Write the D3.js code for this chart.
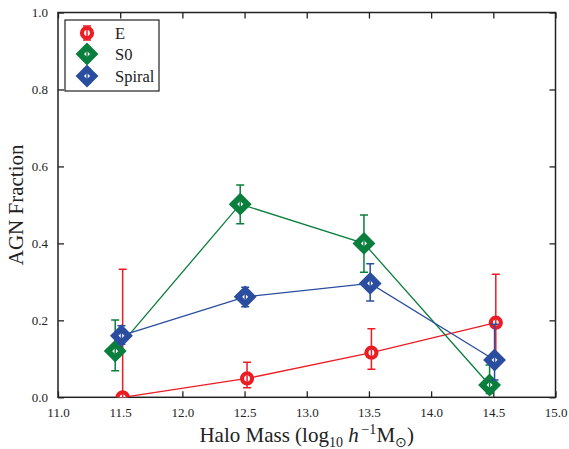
<!DOCTYPE html>
<html>
<head>
<meta charset="utf-8">
<script src="https://cdn.jsdelivr.net/npm/d3@7"></script>
<style>
body { margin: 0; background: #fff; }
text { font-family: "Liberation Serif", "Times New Roman", serif; fill: #222; }
</style>
</head>
<body>
<div id="chart"></div>
<script>

const width = 569, height = 449;

// DATA
const seriesNames = ["E", "S0", "Spiral"];
const seriesColors = ["#ec1c24", "#0a7f3d", "#2a4d9f"];

const massE = [11.52, 12.52, 13.52, 14.52];
const fracE = [0.0, 0.049, 0.116, 0.194];
const loE = [0.0, 0.025, 0.073, 0.09];
const hiE = [0.333, 0.091, 0.178, 0.320];

const massS0 = [11.46, 12.465, 13.46, 14.47];
const fracS0 = [0.120, 0.502, 0.400, 0.032];
const loS0 = [0.069, 0.451, 0.325, 0.010];
const hiS0 = [0.201, 0.552, 0.474, 0.084];

const massSp = [11.51, 12.505, 13.51, 14.51];
const fracSp = [0.160, 0.261, 0.296, 0.097];
const loSp = [0.138, 0.235, 0.250, 0.045];
const hiSp = [0.186, 0.286, 0.347, 0.190];

const xTicks = [11.0, 11.5, 12.0, 12.5, 13.0, 13.5, 14.0, 14.5, 15.0];
const yTicks = [0.0, 0.2, 0.4, 0.6, 0.8, 1.0];

const series = [
	{ name: "E", shape: "circle", x: massE, y: fracE, lo: loE, hi: hiE },
	{ name: "S0", shape: "diamond", x: massS0, y: fracS0, lo: loS0, hi: hiS0 },
	{ name: "Spiral", shape: "diamond", x: massSp, y: fracSp, lo: loSp, hi: hiSp }
];

const margin = { left: 58, right: 13.5, top: 12.5, bottom: 51.7 };

const x = d3.scaleLinear().domain([11, 15]).range([margin.left, width - margin.right]);
const y = d3.scaleLinear().domain([0, 1]).range([height - margin.bottom, margin.top]);

let svg = d3.select("#chart")
	.append("svg")
	.attr("width", width)
	.attr("height", height);

svg.append("clipPath")
	.attr("id", "clip")
	.append("rect")
	.attr("x", margin.left)
	.attr("y", margin.top)
	.attr("width", x(15) - x(11))
	.attr("height", y(0) - y(1));

// AXES (ticks inward, on all four sides)
const tickLen = 6;
const fmt = d3.format(".1f");
const serif = "'Liberation Serif', 'Times New Roman', serif";

svg.append("g")
	.attr("transform", `translate(0,${y(0)})`)
	.call(d3.axisBottom(x).tickValues(xTicks).tickFormat(fmt).tickSizeInner(-tickLen).tickSizeOuter(0).tickPadding(10))
	.call(g => g.select(".domain").remove());

svg.append("g")
	.attr("transform", `translate(0,${y(1)})`)
	.call(d3.axisTop(x).tickValues(xTicks).tickFormat("").tickSizeInner(-tickLen).tickSizeOuter(0))
	.call(g => g.select(".domain").remove());

svg.append("g")
	.attr("transform", `translate(${x(11)},0)`)
	.call(d3.axisLeft(y).tickValues(yTicks).tickFormat(fmt).tickSizeInner(-tickLen).tickSizeOuter(0).tickPadding(10))
	.call(g => g.select(".domain").remove());

svg.append("g")
	.attr("transform", `translate(${x(15)},0)`)
	.call(d3.axisRight(y).tickValues(yTicks).tickFormat("").tickSizeInner(-tickLen).tickSizeOuter(0))
	.call(g => g.select(".domain").remove());

svg.selectAll(".tick line").attr("stroke", "#222").attr("stroke-width", 1.3);
svg.selectAll(".tick").attr("font-family", serif);
svg.selectAll(".tick text")
	.attr("font-family", serif)
	.attr("font-size", 13)
	.style("font-family", serif)
	.style("font-size", "13px")
	.attr("fill", "#333");

// frame
svg.append("rect")
	.attr("x", x(11))
	.attr("y", y(1))
	.attr("width", x(15) - x(11))
	.attr("height", y(0) - y(1))
	.attr("fill", "none")
	.attr("stroke", "#222")
	.attr("stroke-width", 1.5);

// SERIES
const plot = svg.append("g").attr("clip-path", "url(#clip)");

function drawMarker(g, shape, cx, cy, color) {
	if (shape == "circle") {
		g.append("circle")
			.attr("cx", cx).attr("cy", cy).attr("r", 5)
			.attr("fill", "#fff")
			.attr("stroke", color)
			.attr("stroke-width", 4.2);
	} else {
		const r = 7.2;
		g.append("path")
			.attr("d", `M${cx},${cy - r}L${cx + r},${cy}L${cx},${cy + r}L${cx - r},${cy}Z`)
			.attr("fill", "#fff")
			.attr("stroke", color)
			.attr("stroke-width", 6)
			.attr("stroke-linejoin", "miter");
	}
	g.append("line")
		.attr("x1", cx).attr("x2", cx)
		.attr("y1", cy - 3).attr("y2", cy + 3)
		.attr("stroke", color).attr("stroke-width", 1.5);
}

series.forEach((s, k) => {
	const color = seriesColors[k];
	const g = plot.append("g");
	const line = d3.line().x((d, i) => x(s.x[i])).y((d, i) => y(s.y[i]));

	g.append("path")
		.datum(s.y)
		.attr("d", line)
		.attr("fill", "none")
		.attr("stroke", color)
		.attr("stroke-width", 1.3);

	for (let i = 0; i < s.x.length; i++) {
		const cx = x(s.x[i]);
		g.append("line")
			.attr("x1", cx).attr("x2", cx)
			.attr("y1", y(s.lo[i])).attr("y2", y(s.hi[i]))
			.attr("stroke", color).attr("stroke-width", 1.5);
		[s.lo[i], s.hi[i]].forEach(v => {
			g.append("line")
				.attr("x1", cx - 4).attr("x2", cx + 4)
				.attr("y1", y(v)).attr("y2", y(v))
				.attr("stroke", color).attr("stroke-width", 1.5);
		});
	}
	for (let i = 0; i < s.x.length; i++) {
		drawMarker(g, s.shape, x(s.x[i]), y(s.y[i]), color);
	}
});

// LEGEND
const legend = svg.append("g");
legend.append("rect")
	.attr("x", 65).attr("y", 20)
	.attr("width", 94).attr("height", 71)
	.attr("fill", "#fff")
	.attr("stroke", "#222")
	.attr("stroke-width", 1.2);

const legendY = [33, 54, 76];
series.forEach((s, k) => {
	const color = seriesColors[k];
	const ly = legendY[k];
	legend.append("line")
		.attr("x1", 87).attr("x2", 87)
		.attr("y1", ly - 7).attr("y2", ly + 7)
		.attr("stroke", color).attr("stroke-width", 1.5);
	[ly - 7, ly + 7].forEach(v => {
		legend.append("line")
			.attr("x1", 83).attr("x2", 91)
			.attr("y1", v).attr("y2", v)
			.attr("stroke", color).attr("stroke-width", 1.5);
	});
	drawMarker(legend, s.shape, 87, ly, color);
	legend.append("text")
		.attr("x", 115).attr("y", ly + 5.5)
		.style("font-size", "16.5px")
		.text(seriesNames[k]);
});

// AXIS TITLES
svg.append("text")
	.attr("transform", `translate(23,${(y(0) + y(1)) / 2}) rotate(-90)`)
	.attr("text-anchor", "middle")
	.style("font-size", "21px")
	.text("AGN Fraction");

const xt = svg.append("text")
	.attr("x", (x(11) + x(15)) / 2)
	.attr("y", 442)
	.attr("text-anchor", "middle")
	.style("font-size", "21px");
xt.append("tspan").text("Halo Mass (log");
xt.append("tspan").attr("dy", 5).style("font-size", "14px").text("10");
xt.append("tspan").attr("dy", -5).text(" ");
xt.append("tspan").style("font-style", "italic").text("h");
xt.append("tspan").attr("dy", -8).style("font-size", "14px").text("\u2009\u22121");
xt.append("tspan").attr("dy", 8).text("M");
xt.append("tspan").attr("dy", 5).style("font-size", "14px").text("\u2299");
xt.append("tspan").attr("dy", -5).text(")");

</script>
</body>
</html>
